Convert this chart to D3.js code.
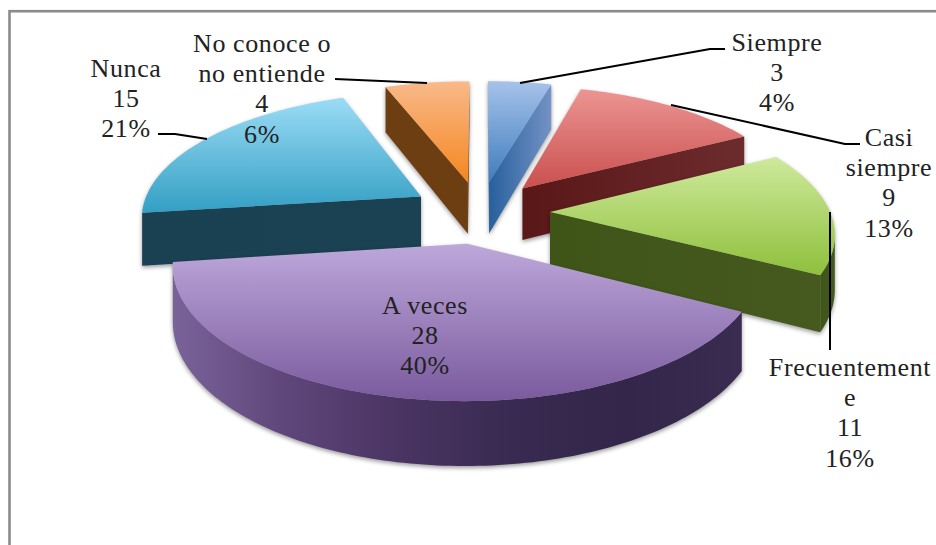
<!DOCTYPE html>
<html><head><meta charset="utf-8">
<script src="https://cdn.jsdelivr.net/npm/d3@7/dist/d3.min.js"></script>
<style>html,body{margin:0;padding:0;background:#fff;overflow:hidden}svg{display:block}
text{font-family:"Liberation Serif",serif;font-size:26px;letter-spacing:.6px;fill:#222;text-anchor:middle}</style>
</head><body><svg id="c" width="936" height="545"></svg>
<script>
// Data
const categories = ["Siempre","Casi siempre","Frecuentemente","A veces","Nunca","No conoce o no entiende"];
const values = [3,9,11,28,15,4];
const labelLines = [["Siempre"],["Casi","siempre"],["Frecuentement","e"],["A veces"],["Nunca"],["No conoce o","no entiende"]];

// Styles, in category order
const topColors = [["#a6c2ea","#3f7dbd"],["#ec9593","#c9504e"],["#cfe99c","#8ec03c"],["#bda8da","#7a5a9e"],["#9bdcf5","#339fc4"],["#f9b98a","#f5861f"]];
const wallColors = [["#27609c","#7492c6"],["#5a1718","#6c2b2d"],["#3f5518","#46591f"],["#7a6399","#5e467a","#4a3462","#382a50","#33264a","#3a2c50"],["#1a4152","#1b4252"],["#6d3e12","#6d3e12"]];
const paintOrder = [0,5,1,4,2,3];

// Layout
const W = 936, H = 545;
const cx = 480, cy = 212, A = 280, B = 124, K = 0.147, EXPLODE = 0.25, THICK = 53;
const labelCenters = [777,889,850,425,126,262];
const labelBaselines = [51,146,376,314,77,52];
const LINE_H = 30.2;
const leaders = [
  [[520,83],[710,49],[725,49]],
  [[671,105],[845,144],[860,144]],
  [[830,212],[830,350]],
  [],
  [[207,139],[175,134],[158,134]],
  [[335,79],[427,83]]
];

const svg = d3.select("#c");
svg.append("rect").attr("width",W).attr("height",H).attr("fill","#fff");
svg.append("rect").attr("x",9.5).attr("y",11.2).attr("width",1200).attr("height",1200)
  .attr("fill","none").attr("stroke","#8b8b8b").attr("stroke-width",2.6);

const xScale = d3.scaleLinear().domain([-1,1]).range([cx-A,cx+A]);
const yScale = d3.scaleLinear().domain([-1,1]).range([cy+B,cy-B]);
// Ground point (gx to the right, gz away from the viewer) to screen, h = drop below the top face
function project(gx,gz,h){
  const s = 1/(1+K*gz);
  return [cx+(xScale(gx)-cx)*s, cy+(yScale(gz)-cy)*s+h*THICK*s];
}
const line = d3.line();
const total = d3.sum(values);
const pct = d3.format(".0%");
const arcs = d3.pie().sort(null).value(d=>d)(values);
const defs = svg.append("defs");

function addGrad(id,c,horizontal){
  const g = defs.append("linearGradient").attr("id",id)
    .attr("x1",0).attr("y1",0).attr("x2",horizontal?1:0).attr("y2",horizontal?0:1);
  c.forEach((col,i)=>g.append("stop").attr("offset",i/(c.length-1)).attr("stop-color",col));
}
topColors.forEach((c,i)=>addGrad("t"+i,c,false));
wallColors.forEach((c,i)=>addGrad("w"+i,c,true));

// d3.polygonArea is positive for the walls that face the viewer in this winding
function faces(p){return d3.polygonArea(p)>0;}

paintOrder.forEach(i=>{
  const a = arcs[i], mid = (a.startAngle+a.endAngle)/2;
  const ox = EXPLODE*Math.sin(mid), oz = EXPLODE*Math.cos(mid);
  const n = Math.max(4,Math.round((a.endAngle-a.startAngle)/0.02));
  const thetas = d3.range(n+1).map(k=>a.startAngle+(a.endAngle-a.startAngle)*k/n);
  const ground = thetas.map(t=>[ox+Math.sin(t),oz+Math.cos(t)]);
  const apex = [ox,oz];
  const top = g=>project(g[0],g[1],0), bot = g=>project(g[0],g[1],1);
  const g = svg.append("g").style("filter","drop-shadow(0 2px 2px rgba(0,0,0,.4))");
  const fill = "url(#w"+i+")";
  const wall = (pts)=>g.append("path").attr("d",line(pts)+"Z").attr("fill",fill).attr("stroke","none");
  const tryQuad = (p,q)=>{
    const poly=[top(p),top(q),bot(q),bot(p)];
    if(faces(poly)) wall(poly);
  };
  tryQuad(apex,ground[0]);
  tryQuad(ground[n],apex);
  // outer wall: contiguous facing runs
  let run=[];
  const flush=()=>{ if(run.length>1) wall(run.map(top).concat(run.slice().reverse().map(bot))); run=[]; };
  for(let k=0;k<n;k++){
    const poly=[top(ground[k]),top(ground[k+1]),bot(ground[k+1]),bot(ground[k])];
    if(faces(poly)){ if(!run.length) run.push(ground[k]); run.push(ground[k+1]); }
    else flush();
  }
  flush();
  g.append("path").attr("d",line([apex].concat(ground).map(top))+"Z").attr("fill","url(#t"+i+")");
});

// Leader lines
leaders.forEach(l=>{ if(l.length) svg.append("path").attr("d",line(l)).attr("fill","none")
  .attr("stroke","#000").attr("stroke-width",2).attr("stroke-linejoin","round"); });

// Labels
categories.forEach((c,i)=>{
  const lines = labelLines[i].concat([String(values[i]),pct(values[i]/total)]);
  const t = svg.append("text").attr("aria-label",c);
  lines.forEach((s,j)=>t.append("tspan").attr("x",labelCenters[i]).attr("y",labelBaselines[i]+j*LINE_H).text(s));
});
</script></body></html>
